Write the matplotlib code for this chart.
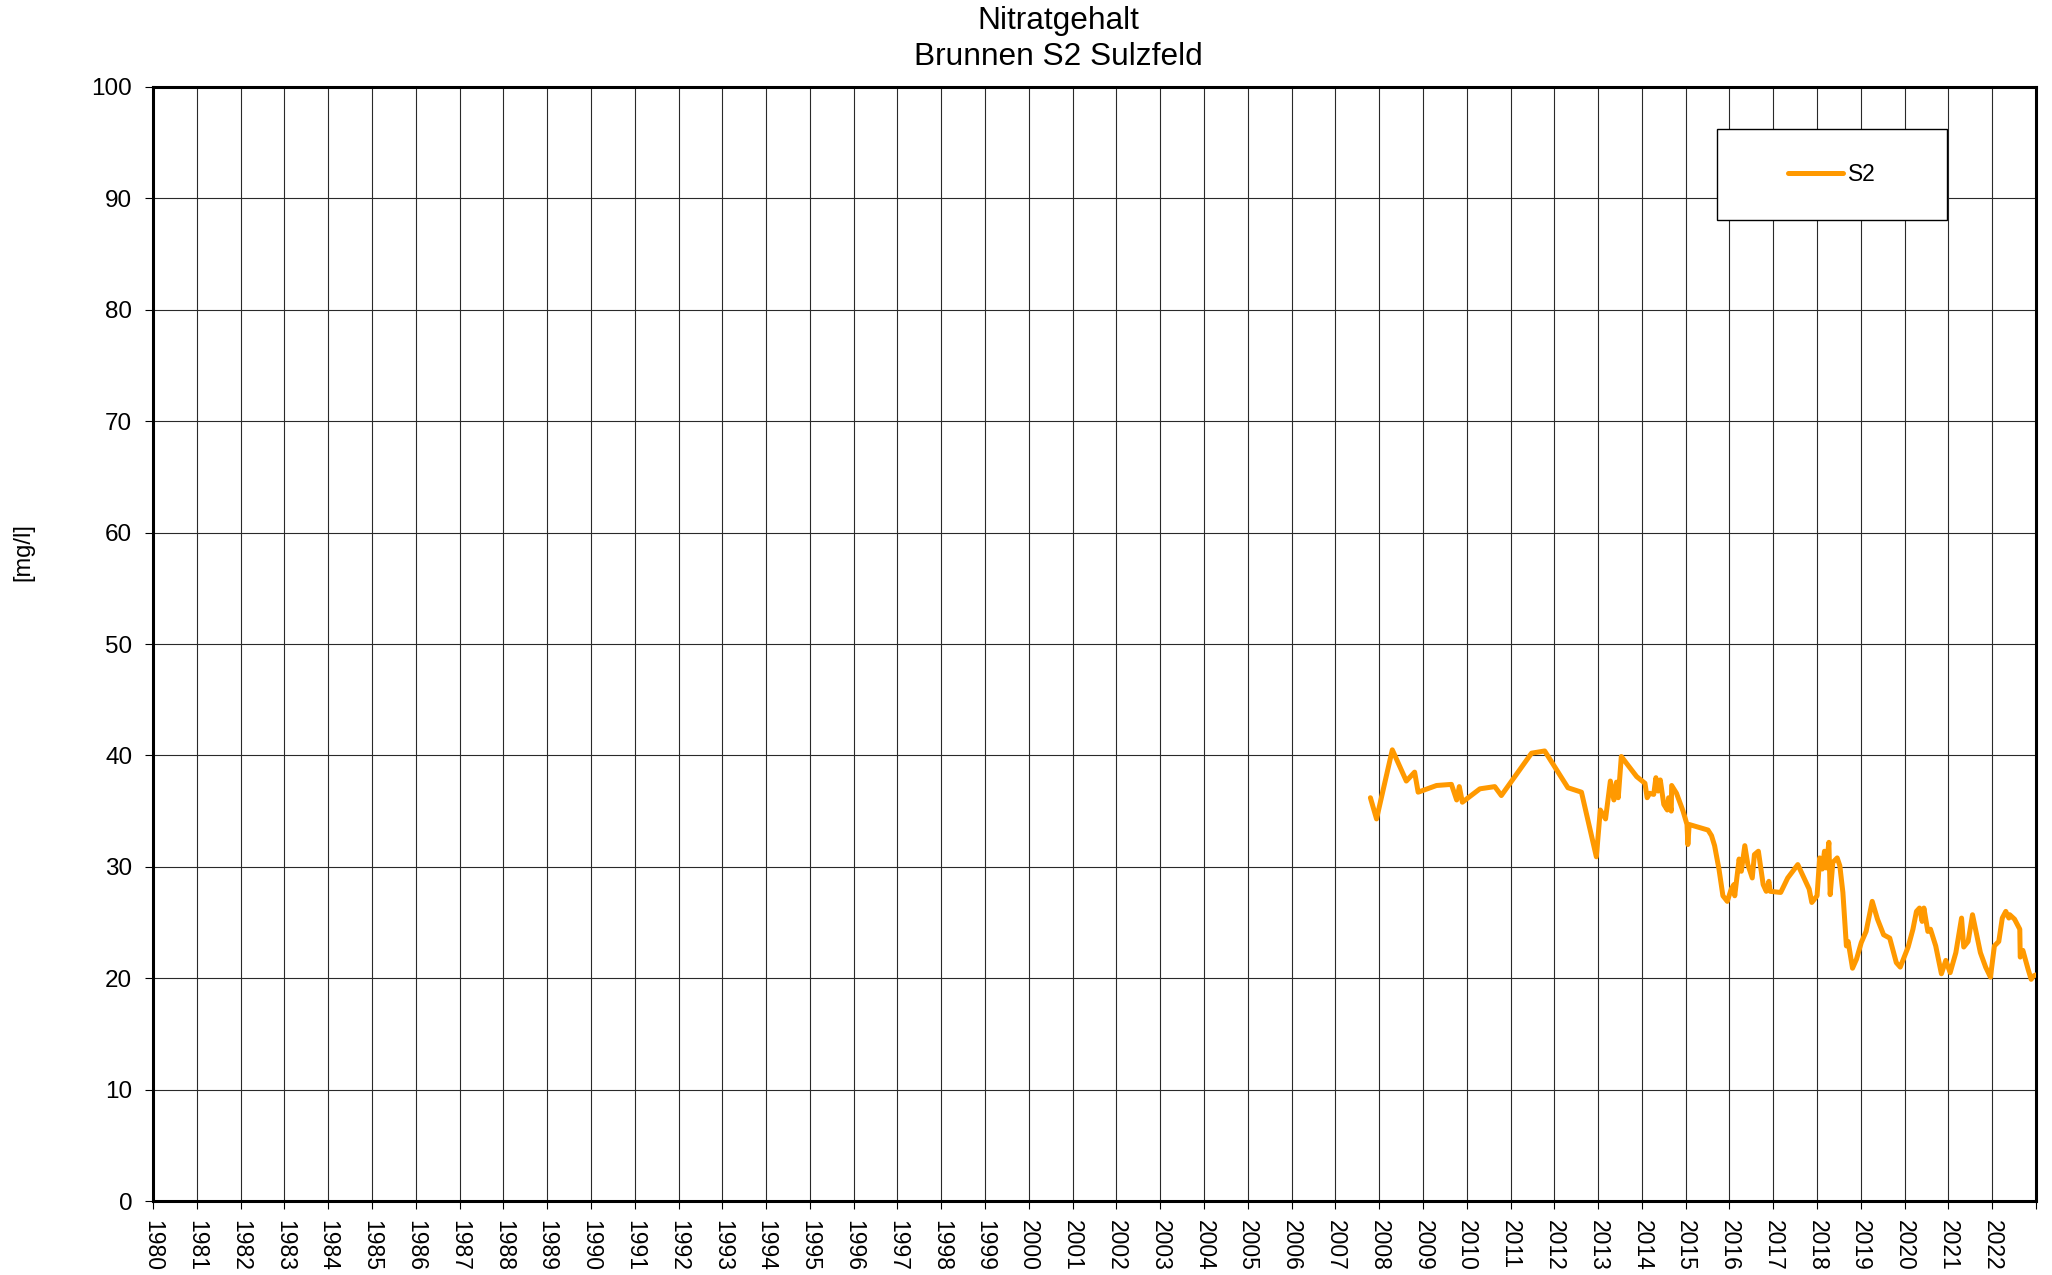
import matplotlib
matplotlib.use("Agg")
import matplotlib.pyplot as plt
from matplotlib.patches import Rectangle

plt.rcParams['font.family'] = ['Liberation Sans', 'DejaVu Sans']

title_lines = ["Nitratgehalt", "Brunnen S2 Sulzfeld"]
y_label = "[mg/l]"
series_name = "S2"

year_ticks = list(range(1980, 2024))
year_labels = [str(y) for y in range(1980, 2023)] + [""]
value_ticks = list(range(0, 101, 10))

s2_dates = [
    2007.80, 2007.94, 2008.30, 2008.62, 2008.81, 2008.89, 2009.31, 2009.65,
    2009.77, 2009.83, 2009.90, 2010.30, 2010.64, 2010.79, 2011.48, 2011.78,
    2012.31, 2012.62, 2012.96, 2013.05, 2013.17, 2013.28, 2013.36, 2013.42,
    2013.46, 2013.53, 2013.88, 2014.07, 2014.12, 2014.18, 2014.27, 2014.32,
    2014.37, 2014.42, 2014.50, 2014.58, 2014.61, 2014.67, 2014.68, 2014.79,
    2014.94, 2015.03, 2015.05, 2015.08, 2015.51, 2015.59, 2015.66, 2015.76,
    2015.85, 2015.95, 2016.04, 2016.10, 2016.12, 2016.22, 2016.27, 2016.35,
    2016.42, 2016.52, 2016.57, 2016.66, 2016.77, 2016.84, 2016.90, 2016.93,
    2017.17, 2017.33, 2017.56, 2017.82, 2017.88, 2018.00, 2018.06, 2018.12,
    2018.17, 2018.21, 2018.27, 2018.30, 2018.36, 2018.46, 2018.52, 2018.59,
    2018.67, 2018.71, 2018.81, 2018.90, 2019.01, 2019.12, 2019.26, 2019.38,
    2019.52, 2019.66, 2019.81, 2019.90, 2020.08, 2020.19, 2020.27, 2020.34,
    2020.40, 2020.44, 2020.53, 2020.59, 2020.71, 2020.84, 2020.94, 2021.04,
    2021.17, 2021.30, 2021.35, 2021.45, 2021.55, 2021.73, 2021.85, 2021.96,
    2022.05, 2022.15, 2022.23, 2022.31, 2022.38, 2022.40, 2022.51, 2022.63,
    2022.64, 2022.70, 2022.82, 2022.89, 2022.94, 2023.00,
]
s2_values = [
    36.2, 34.3, 40.5, 37.7, 38.5, 36.7, 37.3, 37.4,
    36.0, 37.2, 35.8, 37.0, 37.2, 36.4, 40.2, 40.4,
    37.1, 36.7, 30.9, 35.1, 34.3, 37.7, 36.0, 37.6,
    36.2, 39.9, 38.1, 37.5, 36.2, 36.6, 36.5, 38.0,
    36.8, 37.8, 35.6, 35.1, 36.2, 35.0, 37.3, 36.6,
    35.0, 33.8, 32.0, 33.8, 33.3, 32.8, 31.9, 29.8,
    27.4, 26.9, 28.0, 28.4, 27.4, 30.7, 29.6, 31.9,
    30.2, 29.0, 31.1, 31.4, 28.4, 27.8, 28.7, 27.8,
    27.7, 29.0, 30.2, 28.0, 26.8, 27.4, 30.8, 29.8,
    31.4, 29.9, 32.2, 27.5, 30.4, 30.8, 30.1, 27.7,
    22.9, 23.3, 20.9, 21.7, 23.2, 24.2, 26.9, 25.3,
    23.9, 23.6, 21.4, 21.0, 22.8, 24.4, 26.0, 26.3,
    25.1, 26.3, 24.2, 24.4, 22.9, 20.4, 21.6, 20.5,
    22.3, 25.4, 22.8, 23.3, 25.7, 22.3, 21.0, 20.1,
    22.9, 23.3, 25.4, 26.0, 25.4, 25.7, 25.3, 24.4,
    21.9, 22.5, 20.8, 19.9, 20.2, 20.3,
]

fig = plt.figure(figsize=(20.52, 12.75), dpi=100)
ax = fig.add_axes([0.0746, 0.058, 0.9176, 0.8738])

ax.plot(s2_dates, s2_values, color='#FF9900', lw=3.6, solid_joinstyle='round',
        solid_capstyle='round', label=series_name, zorder=3)

ax.set_xlim(1980, 2023)
ax.set_ylim(0, 100)
ax.set_xticks(year_ticks)
ax.set_xticklabels(year_labels, rotation=270, fontsize=16.5)
ax.set_yticks(value_ticks)
ax.tick_params(axis='y', labelsize=17.5, length=6, width=0.8, pad=9)
ax.tick_params(axis='x', length=6, width=0.8, pad=8)
ax.grid(True, color='#2a2a2a', lw=0.8, zorder=1)
ax.set_axisbelow(True)
for sp in ax.spines.values():
    sp.set_linewidth(2.2)
    sp.set_color('black')

fig.text(1058 / 2052, 1 - 29 / 1275, title_lines[0], fontsize=22.8,
         ha='center', va='baseline')
fig.text(1058 / 2052, 1 - 65 / 1275, title_lines[1], fontsize=22.8,
         ha='center', va='baseline')
fig.text(23 / 2052, 1 - 552 / 1275, y_label, rotation=90, fontsize=17,
         ha='center', va='center')

# legend box
bx0, by0, bw, bh = 0.8306, 0.881, 0.1221, 0.081
ax.add_patch(Rectangle((bx0, by0), bw, bh, transform=ax.transAxes,
                       facecolor='white', edgecolor='black', lw=1.0, zorder=4))
leg = ax.legend(loc='center', bbox_to_anchor=(bx0 + bw / 2, by0 + bh / 2),
                frameon=False, fontsize=16.4, handlelength=2.4,
                handletextpad=0.25)
leg.set_zorder(5)

fig.savefig("out.png", dpi=100)
